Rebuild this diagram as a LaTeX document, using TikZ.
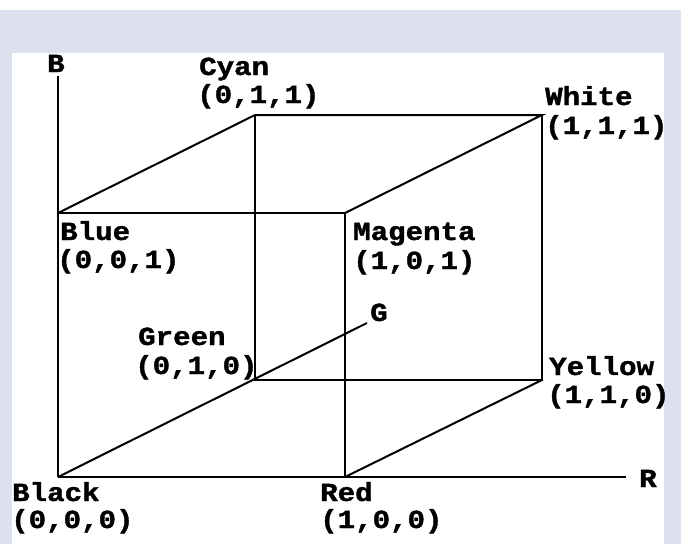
\documentclass[tikz,border=0pt]{standalone}
\usepackage{fontspec}
\newfontfamily\pixfont[FakeStretch=1.12,FakeBold=1.5]{Liberation Mono}
\definecolor{lav}{RGB}{220,224,239}
\begin{document}
\begin{tikzpicture}[x=1pt,y=-1pt,
  edge/.style={line width=2pt,black},
  lbl/.style={anchor=base west,inner sep=0pt,font=\pixfont\fontsize{26}{28}\selectfont\bfseries}]
\useasboundingbox (0,0) rectangle (681,544);
\fill[white] (0,0) rectangle (681,10);
\fill[lav] (0,10) rectangle (681,544);
\fill[white] (12,53) rectangle (664,544);
% corners
\coordinate (K) at (58,477);
\coordinate (Rd) at (345,477);
\coordinate (Bl) at (58,213);
\coordinate (Mg) at (345,213);
\coordinate (Gr) at (255,380);
\coordinate (Ye) at (542,380);
\coordinate (Cy) at (255,115);
\coordinate (Wh) at (542,115);
\coordinate (Rend) at (626,477);
\coordinate (Bend) at (58,76);
\coordinate (Gend) at (367,323);
% axes
\draw[edge] (K) -- (Rend);
\draw[edge] (K) -- (Bend);
\draw[edge] (K) -- (Gend);
% cube
\draw[edge] (Bl) -- (Mg) -- (Rd);
\draw[edge] (Bl) -- (Cy) -- (Wh) -- (Mg);
\draw[edge] (Wh) -- (Ye) -- (Gr) -- (Cy);
\draw[edge] (Rd) -- (Ye);
% labels
\node[lbl] (lB) at (47,72) {B};
\node[lbl] (lR) at (639,487) {R};
\node[lbl] (lG) at (370,321) {G};
\node[lbl] (lcy1) at (199,75) {Cyan};
\node[lbl] (lcy2) at (197,103) {(0,1,1)};
\node[lbl] (lwh1) at (545,105) {White};
\node[lbl] (lwh2) at (545,134) {(1,1,1)};
\node[lbl] (lbl1) at (60,240) {Blue};
\node[lbl] (lbl2) at (57,268) {(0,0,1)};
\node[lbl] (lmg1) at (353,240) {Magenta};
\node[lbl] (lmg2) at (353,269) {(1,0,1)};
\node[lbl] (lgr1) at (138,345) {Green};
\node[lbl] (lgr2) at (135,374) {(0,1,0)};
\node[lbl] (lye1) at (549,375) {Yellow};
\node[lbl] (lye2) at (547,403) {(1,1,0)};
\node[lbl] (lbk1) at (12,501) {Black};
\node[lbl] (lbk2) at (11,528) {(0,0,0)};
\node[lbl] (lrd1) at (320,501) {Red};
\node[lbl] (lrd2) at (320,528) {(1,0,0)};
\end{tikzpicture}
\end{document}
